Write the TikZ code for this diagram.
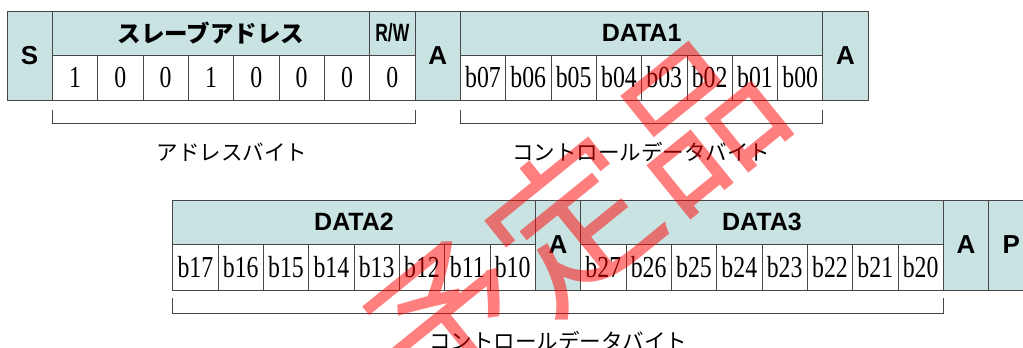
\documentclass[tikz,border=0pt]{standalone}
\usepackage{fontspec}
\setmainfont{Liberation Serif}
\newfontfamily\bitfont[FakeStretch=0.78]{Liberation Serif}
\newfontfamily\hdfont{Liberation Sans}
\newfontfamily\rwfont[FakeStretch=0.7]{Liberation Sans}
\newfontfamily\jp{Noto Sans CJK JP}
\definecolor{hdr}{RGB}{201,226,226}
\definecolor{ln}{RGB}{70,70,70}
\tikzset{
 cellbox/.style={draw=ln, line width=0.9pt, inner sep=0pt, outer sep=0pt, anchor=north west, minimum width=45.33pt},
 hdcell/.style={cellbox, fill=hdr, minimum height=44pt, font=\hdfont\bfseries\fontsize{25}{25}\selectfont},
 tallcell/.style={cellbox, fill=hdr, minimum height=89pt, font=\hdfont\bfseries\fontsize{26}{26}\selectfont},
 bitcell/.style={cellbox, fill=white, minimum height=45pt, font=\bitfont\fontsize{30.5}{30.5}\selectfont},
 lbl/.style={font=\jp\fontsize{21.5}{21.5}\selectfont, inner sep=0pt},
 brk/.style={draw=ln, line width=0.9pt},
 wmark/.style={text=red, text opacity=0.5, font=\jp\fontsize{160}{160}\selectfont, rotate=39}
}
\begin{document}
\begin{tikzpicture}[x=1pt,y=-1pt]
\useasboundingbox (0,0) rectangle (1023,348);
% ---- top row ----
\node[tallcell] (s) at (7,11) {S};
\node[hdcell, minimum width=317.31pt, font=\jp\bfseries\fontsize{23.5}{23.5}\selectfont] (addr) at (52.33,11) {スレーブアドレス};
\node[hdcell, font=\rwfont\bfseries\fontsize{25}{25}\selectfont] (rw) at (369.64,11) {R/W};
\foreach \t [count=\i] in {1,0,0,1,0,0,0,0}
  \node[bitcell] (a\i) at ({7+\i*45.33},55) {\t};
\node[tallcell] (ack1) at (414.97,11) {A};
\node[hdcell, minimum width=362.64pt] (data1) at (460.3,11) {DATA1};
\foreach \t [count=\i] in {b07,b06,b05,b04,b03,b02,b01,b00}
  \node[bitcell] (d\i) at ({7+(9+\i)*45.33},55) {\t};
\node[tallcell] (ack2) at (822.94,11) {A};
% brackets top
\draw[brk] ([yshift=-10pt]a1.south west) -- ++(0pt,-13pt) -| ([yshift=-10pt]a8.south east);
\draw[brk] ([yshift=-10pt]d1.south west) -- ++(0pt,-13pt) -| ([yshift=-10pt]d8.south east);
\node[lbl] (l1) at (232,152) {アドレスバイト};
\node[lbl] (l2) at (641,152) {コントロールデータバイト};
% ---- bottom row ----
\node[hdcell, minimum width=362.64pt] (data2) at (172.7,200) {DATA2};
\foreach \t [count=\i] in {b17,b16,b15,b14,b13,b12,b11,b10}
  \node[bitcell, minimum height=46pt] (e\i) at ({172.7+(\i-1)*45.33},244) {\t};
\node[tallcell, minimum height=90pt] (ack3) at (535.34,200) {A};
\node[hdcell, minimum width=362.64pt] (data3) at (580.67,200) {DATA3};
\foreach \t [count=\i] in {b27,b26,b25,b24,b23,b22,b21,b20}
  \node[bitcell, minimum height=46pt] (f\i) at ({172.7+(8+\i)*45.33},244) {\t};
\node[tallcell, minimum height=90pt] (ack4) at (943.31,200) {A};
\node[tallcell, minimum height=90pt] (stop) at (988.64,200) {P};
% bracket bottom
\draw[brk] ([yshift=-8pt]e1.south west) -- ++(0pt,-15pt) -| ([yshift=-8pt]f8.south east);
\node[lbl] (l3) at (558,341) {コントロールデータバイト};
% watermark
\node[wmark] (wm) at (572,222) {予定品};
\end{tikzpicture}
\end{document}
